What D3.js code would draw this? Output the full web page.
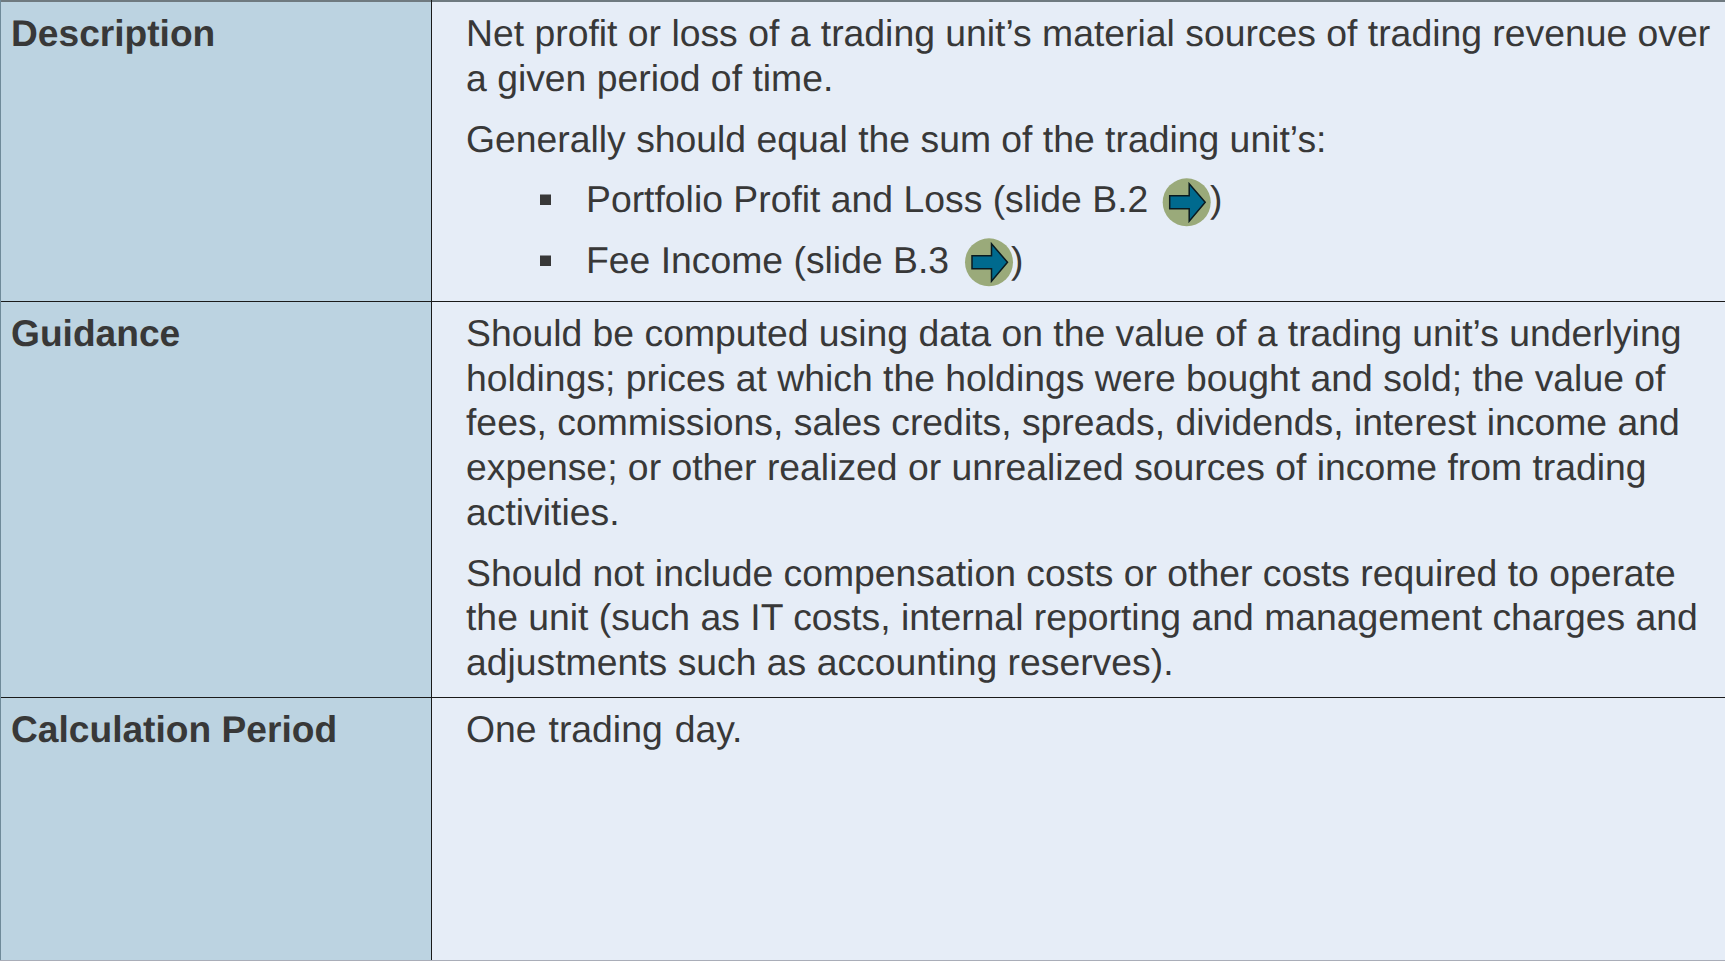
<!DOCTYPE html>
<html>
<head>
<meta charset="utf-8">
<title>Trading unit table</title>
<script src="https://cdn.jsdelivr.net/npm/d3@7"></script>
<style>
html, body { margin: 0; padding: 0; background: #e6edf7; overflow: hidden; }
text { font-family: "Liberation Sans", Arial, sans-serif; fill: #383838; text-rendering: geometricPrecision; }
</style>
</head>
<body>
<div id="my_table"></div>
<script>
// table content
var labels = ["Description", "Guidance", "Calculation Period"];

var description = [
    "Net profit or loss of a trading unit\u2019s material sources of trading revenue over",
    "a given period of time.",
    "Generally should equal the sum of the trading unit\u2019s:"
];
var bullets = [
    "Portfolio Profit and Loss (slide B.2",
    "Fee Income (slide B.3"
];
var guidance = [
    "Should be computed using data on the value of a trading unit\u2019s underlying",
    "holdings; prices at which the holdings were bought and sold; the value of",
    "fees, commissions, sales credits, spreads, dividends, interest income and",
    "expense; or other realized or unrealized sources of income from trading",
    "activities.",
    "Should not include compensation costs or other costs required to operate",
    "the unit (such as IT costs, internal reporting and management charges and",
    "adjustments such as accounting reserves)."
];
var period = ["One trading day."];

// layout
var width = 1725;
var height = 961;
var fontSize = 37.33;
var boldSize = 37.15;
var colX = 431.5;
var textX = 466;
var rowTops = [1, 301.5, 697.5];
var labelY = [46, 346, 742];
var labelColor = '#bcd3e1';
var cellColor = '#e6edf7';

var svg = d3.select('#my_table')
    .append("svg")
    .attr("width", width)
    .attr("height", height)
    .style("display", "block");

svg.append('rect')
    .attr('width', width)
    .attr('height', height)
    .attr('fill', cellColor);

svg.append('rect')
    .attr('width', colX)
    .attr('height', height)
    .attr('fill', labelColor);

// grid lines
svg.selectAll('line.row')
    .data(rowTops)
    .enter().append('line')
    .attr('class', 'row')
    .attr('x1', 0)
    .attr('x2', width)
    .attr('y1', function(d) { return d; })
    .attr('y2', function(d) { return d; })
    .style('stroke', function(d, i) { return i == 0 ? '#6f7a80' : '#1a1a1a'; })
    .style('stroke-width', function(d, i) { return i == 0 ? 2 : 1; });

svg.append('line')
    .attr('x1', colX)
    .attr('x2', colX)
    .attr('y1', 0)
    .attr('y2', height)
    .style('stroke', '#1a1a1a')
    .style('stroke-width', 1);

svg.append('line')
    .attr('x1', 0.5)
    .attr('x2', 0.5)
    .attr('y1', 0)
    .attr('y2', height)
    .style('stroke', '#6f8a99')
    .style('stroke-width', 1);

svg.append('line')
    .attr('x1', 0)
    .attr('x2', width)
    .attr('y1', 960.5)
    .attr('y2', 960.5)
    .style('stroke', '#a9adb8')
    .style('stroke-width', 1);

// row labels
svg.selectAll('text.label')
    .data(labels)
    .enter().append('text')
    .attr('class', 'label')
    .attr('x', 11)
    .attr('y', function(d, i) { return labelY[i]; })
    .style('font-size', boldSize + 'px')
    .style('font-weight', 'bold')
    .text(function(d) { return d; });

// plain paragraph lines, ys are the baselines
var draw_lines = function(lines, ys, x) {
    return svg.selectAll(null)
        .data(lines)
        .enter().append('text')
        .attr('x', x)
        .attr('y', function(d, i) { return ys[i]; })
        .style('font-size', fontSize + 'px')
        .text(function(d) { return d; });
};

var descY = [46, 90.7, 151.7];
var bulletY = [211.5, 272.5];
var guideY = [346, 390.7, 435.4, 480, 524.7, 585.5, 630.4, 675];
var periodY = [742];

draw_lines(description, descY, textX);
draw_lines(guidance, guideY, textX);
// this line sits a little wider in the reference
draw_lines(period, periodY, textX).style('word-spacing', '1.6px');

// bullets with the little link button behind each one
var arrow = "M-17,-6.5 H2.5 V-18.5 L18.5,0 L2.5,19 V6.5 H-17 Z";
var buttonX = [1186.7, 989];
var buttonY = [202.3, 262.3];
var closeX = [1210, 1011];

bullets.forEach(function(b, i) {
    var y = bulletY[i];
    svg.append('rect')
        .attr('x', 540)
        .attr('y', y - 17)
        .attr('width', 11)
        .attr('height', 10.5)
        .attr('fill', '#383838');

    svg.append('text')
        .attr('x', 586)
        .attr('y', y)
        .style('font-size', fontSize + 'px')
        .text(b);

    var g = svg.append('g')
        .attr('transform', 'translate(' + buttonX[i] + ',' + buttonY[i] + ')');
    g.append('circle')
        .attr('r', 24)
        .attr('fill', '#9aaa7a');
    g.append('path')
        .attr('d', arrow)
        .attr('fill', '#006a8e')
        .attr('stroke', '#0a1a20')
        .attr('stroke-width', 1.5)
        .attr('stroke-linejoin', 'miter');

    svg.append('text')
        .attr('x', closeX[i])
        .attr('y', y)
        .style('font-size', fontSize + 'px')
        .text(')');
});
</script>
</body>
</html>
